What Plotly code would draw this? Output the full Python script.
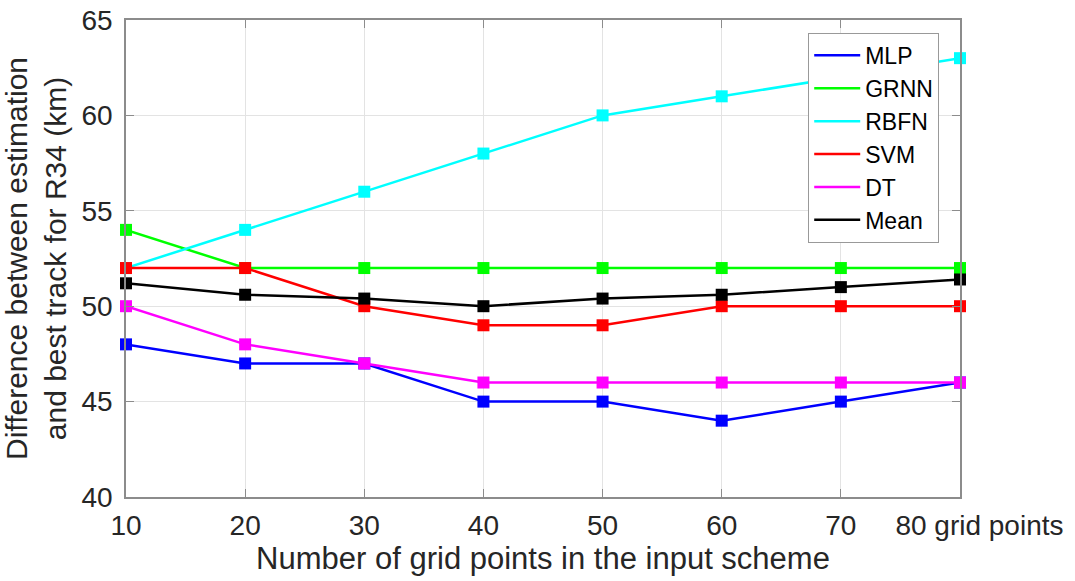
import plotly.graph_objects as go

# Number of grid points in the input scheme
grid_points = [10, 20, 30, 40, 50, 60, 70, 80]
tick_labels = ["10", "20", "30", "40", "50", "60", "70", "\u00a0\u00a0\u00a0\u00a0\u00a080 grid points"]

# Difference between estimation and best track for R34 (km)
mlp = [48, 47, 47, 45, 45, 44, 45, 46]
grnn = [54, 52, 52, 52, 52, 52, 52, 52]
rbfn = [52, 54, 56, 58, 60, 61, 62, 63]
svm = [52, 52, 50, 49, 49, 50, 50, 50]
dt = [50, 48, 47, 46, 46, 46, 46, 46]
mean = [51.2, 50.6, 50.4, 50.0, 50.4, 50.6, 51.0, 51.4]

series = [
    ("MLP", mlp, "#0000ff"),
    ("GRNN", grnn, "#00ff00"),
    ("RBFN", rbfn, "#00ffff"),
    ("SVM", svm, "#ff0000"),
    ("DT", dt, "#ff00ff"),
    ("Mean", mean, "#000000"),
]

FONT = "Liberation Sans, Arial, sans-serif"
TEXT_COLOR = "#262626"
AXIS_COLOR = "#8c8c8c"
GRID_COLOR = "#e3e3e3"

fig = go.Figure()
for name, values, color in series:
    # line (shown in the legend) followed by its square markers
    fig.add_trace(go.Scatter(
        x=grid_points, y=values, name=name, mode="lines",
        line=dict(color=color, width=2.5), legendgroup=name,
        cliponaxis=False,
    ))
    fig.add_trace(go.Scatter(
        x=grid_points, y=values, name=name, mode="markers",
        marker=dict(symbol="square", size=12, color=color),
        legendgroup=name, showlegend=False, cliponaxis=False,
    ))

axis_common = dict(
    showline=True, linecolor=AXIS_COLOR, linewidth=1.5, mirror="ticks",
    ticks="inside", ticklen=8, tickcolor=AXIS_COLOR, tickwidth=1,
    showgrid=True, gridcolor=GRID_COLOR, gridwidth=1, zeroline=False,
    tickfont=dict(family=FONT, size=28, color=TEXT_COLOR),
    tickangle=0, automargin=False,
)

fig.update_xaxes(
    range=[10, 80], tickvals=grid_points, ticktext=tick_labels,
    ticklabelstandoff=3,
    title=dict(text="Number of grid points in the input scheme",
               font=dict(family=FONT, size=31, color=TEXT_COLOR), standoff=0),
    **axis_common,
)
fig.update_yaxes(
    range=[40, 65], tickvals=[40, 45, 50, 55, 60, 65],
    ticklabelstandoff=6,
    title=dict(text="Difference between estimation<br>and best track for R34 (km)",
               font=dict(family=FONT, size=30, color=TEXT_COLOR), standoff=12),
    **axis_common,
)

fig.update_layout(
    width=1075, height=581,
    margin=dict(l=126, r=115, t=20, b=84),
    paper_bgcolor="white", plot_bgcolor="white",
    font=dict(family=FONT, color=TEXT_COLOR),
    legend=dict(
        x=0.818, y=0.973, xanchor="left", yanchor="top",
        bgcolor="white", bordercolor="#999999", borderwidth=1,
        font=dict(family=FONT, size=23, color="#000000"),
        tracegroupgap=0, itemwidth=46,
    ),
    showlegend=True,
)

fig.write_html("out.html")
